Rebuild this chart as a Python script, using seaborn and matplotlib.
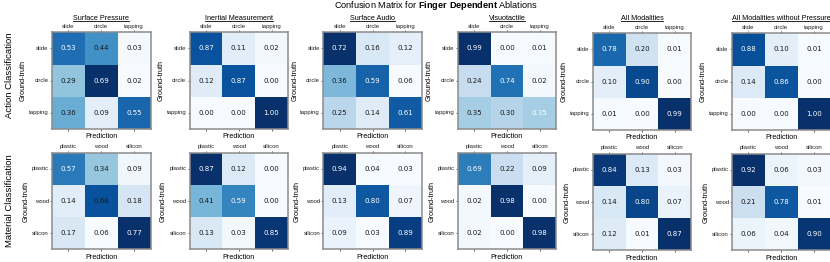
import matplotlib
matplotlib.use("Agg")
import matplotlib.pyplot as plt
import seaborn as sns
from matplotlib.lines import Line2D

plt.rcParams['font.family'] = ['Liberation Sans', 'DejaVu Sans']
plt.rcParams['mathtext.fontset'] = 'custom'
plt.rcParams['mathtext.rm'] = 'Liberation Sans'
plt.rcParams['mathtext.bf'] = 'Liberation Sans:bold'

# dữ liệu
titles = ["Surface Pressure", "Inertial Measurement", "Surface Audio",
          "Visuotactile", "All Modalities", "All Modalities without Pressure"]
action_labels = ["slide", "circle", "tapping"]
material_labels = ["plastic", "wood", "silicon"]
row_names = ["Action Classification", "Material Classification"]

action_sp = [[0.53, 0.44, 0.03], [0.29, 0.69, 0.02], [0.36, 0.09, 0.55]]
action_im = [[0.87, 0.11, 0.02], [0.12, 0.87, 0.00], [0.00, 0.00, 1.00]]
action_sa = [[0.72, 0.16, 0.12], [0.36, 0.59, 0.06], [0.25, 0.14, 0.61]]
action_vt = [[0.99, 0.00, 0.01], [0.24, 0.74, 0.02], [0.35, 0.30, 0.35]]
action_all = [[0.78, 0.20, 0.01], [0.10, 0.90, 0.00], [0.01, 0.00, 0.99]]
action_nop = [[0.88, 0.10, 0.01], [0.14, 0.86, 0.00], [0.00, 0.00, 1.00]]

material_sp = [[0.57, 0.34, 0.09], [0.14, 0.68, 0.18], [0.17, 0.06, 0.77]]
material_im = [[0.87, 0.12, 0.00], [0.41, 0.59, 0.00], [0.13, 0.03, 0.85]]
material_sa = [[0.94, 0.04, 0.03], [0.13, 0.80, 0.07], [0.09, 0.03, 0.89]]
material_vt = [[0.69, 0.22, 0.09], [0.02, 0.98, 0.00], [0.02, 0.00, 0.98]]
material_all = [[0.84, 0.13, 0.03], [0.14, 0.80, 0.07], [0.12, 0.01, 0.87]]
material_nop = [[0.92, 0.06, 0.03], [0.21, 0.78, 0.01], [0.06, 0.04, 0.90]]

rows = [
    (action_labels, [action_sp, action_im, action_sa, action_vt, action_all, action_nop]),
    (material_labels, [material_sp, material_im, material_sa, material_vt, material_all, material_nop]),
]

# diagonal text is white, except this one cell (row, col, i, j)
black_diag = [(1, 0, 1, 1)]

W, H = 830, 262
fig = plt.figure(figsize=(W / 100, H / 100), dpi=100)

col_left = [52, 189.5, 323.3, 457.7, 592.7, 732]
col_shift = [0, 0, 0, 0, 1, 1]
row_top = [32.3, 152.7]
pw, ph = 98.5, 96.7

title_texts = []
for r, (labels, mats) in enumerate(rows):
    for c, m in enumerate(mats):
        top = row_top[r] + col_shift[c]
        ax = fig.add_axes([col_left[c] / W, 1 - (top + ph) / H, pw / W, ph / H])
        sns.heatmap(m, ax=ax, cmap="Blues", annot=True, fmt=".2f", cbar=False,
                    xticklabels=labels, yticklabels=labels,
                    annot_kws={"size": 5, "family": "DejaVu Sans"})
        for k, t in enumerate(ax.texts):
            i, j = divmod(k, 3)
            if i == j and (r, c, i, j) not in black_diag:
                t.set_color("white")
            else:
                t.set_color("#1a1a1a")
        ax.tick_params(axis='x', top=True, labeltop=True, bottom=True, labelbottom=False,
                       length=1.5, width=0.5, pad=1, labelsize=4.3, colors='#222222')
        ax.tick_params(axis='y', length=1.5, width=0.5, pad=0.8, labelsize=4.3, colors='#222222')
        plt.setp(ax.get_yticklabels(), rotation=0)
        plt.setp(ax.get_xticklabels(), rotation=0)
        ax.set_xlabel("Prediction", fontsize=5.2, labelpad=1.5)
        ax.set_ylabel("Ground-truth", fontsize=5.2, labelpad=1.5)
        for s in ax.spines.values():
            s.set_visible(True)
            s.set_color("#8c8c8c")
            s.set_linewidth(1.1)
        if r == 0:
            tt = fig.text((col_left[c] + pw / 2) / W, 1 - 19.8 / H, titles[c],
                          ha='center', va='baseline', fontsize=5.2)
            title_texts.append(tt)

fig.text(10 / W, 1 - 75 / H, row_names[0], rotation=90, ha='center', va='center', fontsize=6.8)
fig.text(10 / W, 1 - 201 / H, row_names[1], rotation=90, ha='center', va='center', fontsize=6.8)

fig.text(436 / W, 1 - 6 / H, r"Confusion Matrix for $\bf{Finger\ Dependent}$ Ablations",
         ha='center', va='center', fontsize=6.6)

# gạch chân tiêu đề
fig.canvas.draw()
renderer = fig.canvas.get_renderer()
for tt in title_texts:
    bb = tt.get_window_extent(renderer)
    y = bb.y0 + 0.5
    fig.add_artist(Line2D([bb.x0 / W, bb.x1 / W], [y / H, y / H],
                          transform=fig.transFigure, lw=0.6, color='black'))

fig.savefig("out.png", dpi=100)
